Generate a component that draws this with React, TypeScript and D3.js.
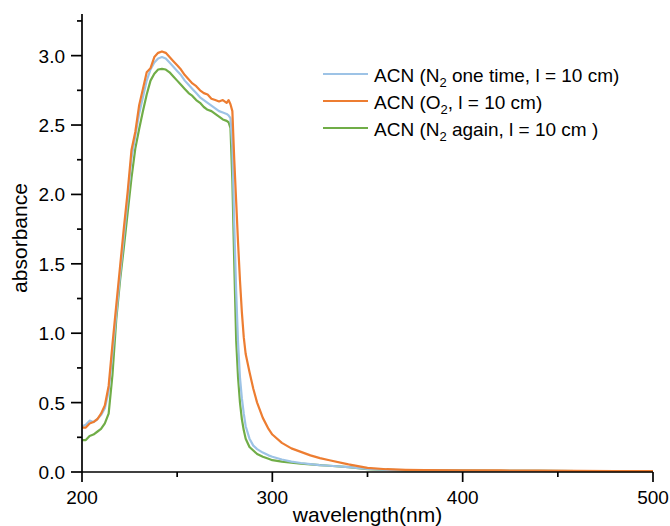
import React from "react";
import * as d3 from "d3";

const wavelengths = [200, 202, 204, 206, 208, 210, 212, 214, 216, 218, 220, 222, 224, 226, 228, 230, 232, 234, 236, 238, 240, 242, 244, 246, 248, 250, 252, 254, 256, 258, 260, 262, 264, 266, 268, 270, 272, 274, 276, 277, 278, 279, 280, 281, 282, 283, 284, 285, 286, 288, 290, 292, 295, 298, 300, 305, 310, 315, 320, 325, 330, 340, 350, 360, 370, 380, 400, 420, 440, 460, 480, 500];

const absN2First = [0.33, 0.34, 0.37, 0.36, 0.38, 0.41, 0.46, 0.58, 0.86, 1.14, 1.42, 1.70, 1.97, 2.26, 2.42, 2.58, 2.70, 2.82, 2.90, 2.95, 2.98, 2.99, 2.98, 2.95, 2.92, 2.89, 2.86, 2.82, 2.79, 2.76, 2.73, 2.70, 2.68, 2.66, 2.64, 2.62, 2.60, 2.59, 2.58, 2.57, 2.55, 2.35, 1.78, 1.30, 0.93, 0.68, 0.53, 0.42, 0.33, 0.24, 0.19, 0.165, 0.14, 0.12, 0.11, 0.09, 0.075, 0.065, 0.057, 0.05, 0.045, 0.035, 0.022, 0.016, 0.013, 0.011, 0.01, 0.009, 0.008, 0.007, 0.006, 0.006];

const absO2 = [0.32, 0.32, 0.35, 0.36, 0.38, 0.42, 0.48, 0.62, 0.92, 1.20, 1.48, 1.76, 2.02, 2.32, 2.45, 2.64, 2.76, 2.88, 2.91, 2.99, 3.02, 3.03, 3.02, 2.99, 2.96, 2.93, 2.90, 2.86, 2.83, 2.80, 2.78, 2.75, 2.73, 2.72, 2.69, 2.68, 2.67, 2.68, 2.66, 2.68, 2.65, 2.60, 2.25, 1.95, 1.65, 1.38, 1.15, 0.97, 0.85, 0.72, 0.60, 0.50, 0.39, 0.31, 0.27, 0.21, 0.17, 0.145, 0.12, 0.10, 0.085, 0.055, 0.03, 0.02, 0.015, 0.013, 0.012, 0.011, 0.01, 0.008, 0.007, 0.006];

const absN2Again = [0.23, 0.23, 0.26, 0.27, 0.29, 0.31, 0.35, 0.42, 0.70, 1.10, 1.38, 1.62, 1.87, 2.12, 2.33, 2.47, 2.60, 2.72, 2.82, 2.87, 2.90, 2.905, 2.90, 2.88, 2.85, 2.82, 2.79, 2.76, 2.73, 2.71, 2.68, 2.66, 2.63, 2.61, 2.60, 2.58, 2.56, 2.54, 2.53, 2.52, 2.48, 2.10, 1.50, 0.95, 0.68, 0.50, 0.38, 0.30, 0.24, 0.18, 0.155, 0.13, 0.11, 0.095, 0.085, 0.075, 0.068, 0.06, 0.055, 0.05, 0.045, 0.035, 0.02, 0.015, 0.012, 0.011, 0.01, 0.009, 0.008, 0.007, 0.006, 0.006];

const seriesLabelsMain = ["ACN (N", "ACN (O", "ACN (N"];
const seriesLabelsRest = [" one time, l = 10 cm)", ", l = 10 cm)", " again, l = 10 cm )"];
const seriesColors = ["#9DC3E6", "#ED7D31", "#70AD47"];

const xMajorTicks = [200, 300, 400, 500];
const xMinorTicks = [250, 350, 450];
const yMajorTicks = [0, 0.5, 1.0, 1.5, 2.0, 2.5, 3.0];
const yMinorTicks = [0.25, 0.75, 1.25, 1.75, 2.25, 2.75, 3.25];

const xTitle = "wavelength(nm)";
const yTitle = "absorbance";

export default function App() {
  const W = 670, H = 526;
  const left = 82, right = 653, top = 14, bottom = 472;
  const x = d3.scaleLinear().domain([200, 500]).range([left, right]);
  const y = d3.scaleLinear().domain([0, 3.3]).range([bottom, top]);
  const series = [absN2First, absO2, absN2Again];
  const line = (vals: number[]) =>
    d3.line<number>()
      .x((_, i) => x(wavelengths[i]))
      .y((v) => y(v))(vals) || "";
  const drawOrder = [2, 0, 1];
  const font = "'Liberation Sans', Arial, sans-serif";
  const legendY = [74, 101, 128];

  return (
    <svg width={W} height={H} style={{ position: "fixed", left: 0, top: 0, background: "#fff" }} fontFamily={font}>
      <rect width={W} height={H} fill="#fff" />
      {drawOrder.map((si) => (
        <path key={si} d={line(series[si])} fill="none" stroke={seriesColors[si]} strokeWidth={2.2} strokeLinejoin="round" />
      ))}
      {/* axes */}
      <line x1={left} x2={left} y1={top} y2={bottom} stroke="#000" strokeWidth={1.7} />
      <line x1={left} x2={right} y1={bottom} y2={bottom} stroke="#000" strokeWidth={1.7} />
      {xMajorTicks.map((t) => (
        <g key={"xm" + t}>
          <line x1={x(t)} x2={x(t)} y1={bottom} y2={bottom + 10} stroke="#000" strokeWidth={1.7} />
          <text x={x(t)} y={504} textAnchor="middle" fontSize={19} fill="#000">{t}</text>
        </g>
      ))}
      {xMinorTicks.map((t) => (
        <line key={"xn" + t} x1={x(t)} x2={x(t)} y1={bottom} y2={bottom + 5} stroke="#000" strokeWidth={1.7} />
      ))}
      {yMajorTicks.map((t) => (
        <g key={"ym" + t}>
          <line x1={left - 11} x2={left} y1={y(t)} y2={y(t)} stroke="#000" strokeWidth={1.7} />
          <text x={65} y={y(t) + 7} textAnchor="end" fontSize={19} fill="#000">{t.toFixed(1)}</text>
        </g>
      ))}
      {yMinorTicks.map((t) => (
        <line key={"yn" + t} x1={left - 5} x2={left} y1={y(t)} y2={y(t)} stroke="#000" strokeWidth={1.7} />
      ))}
      <text x={(left + right) / 2} y={522} textAnchor="middle" fontSize={21} fill="#000">{xTitle}</text>
      <text transform={`translate(27,238) rotate(-90)`} textAnchor="middle" fontSize={21} fill="#000">{yTitle}</text>
      {/* legend */}
      {seriesLabelsMain.map((lab, i) => (
        <g key={"lg" + i}>
          <line x1={323} x2={368} y1={legendY[i]} y2={legendY[i]} stroke={seriesColors[i]} strokeWidth={2.2} />
          <text x={374} y={legendY[i] + 7.5} fontSize={19} fill="#000">
            {lab}
            <tspan fontSize={13} dy={5}>2</tspan>
            <tspan dy={-5}>{seriesLabelsRest[i]}</tspan>
          </text>
        </g>
      ))}
    </svg>
  );
}
